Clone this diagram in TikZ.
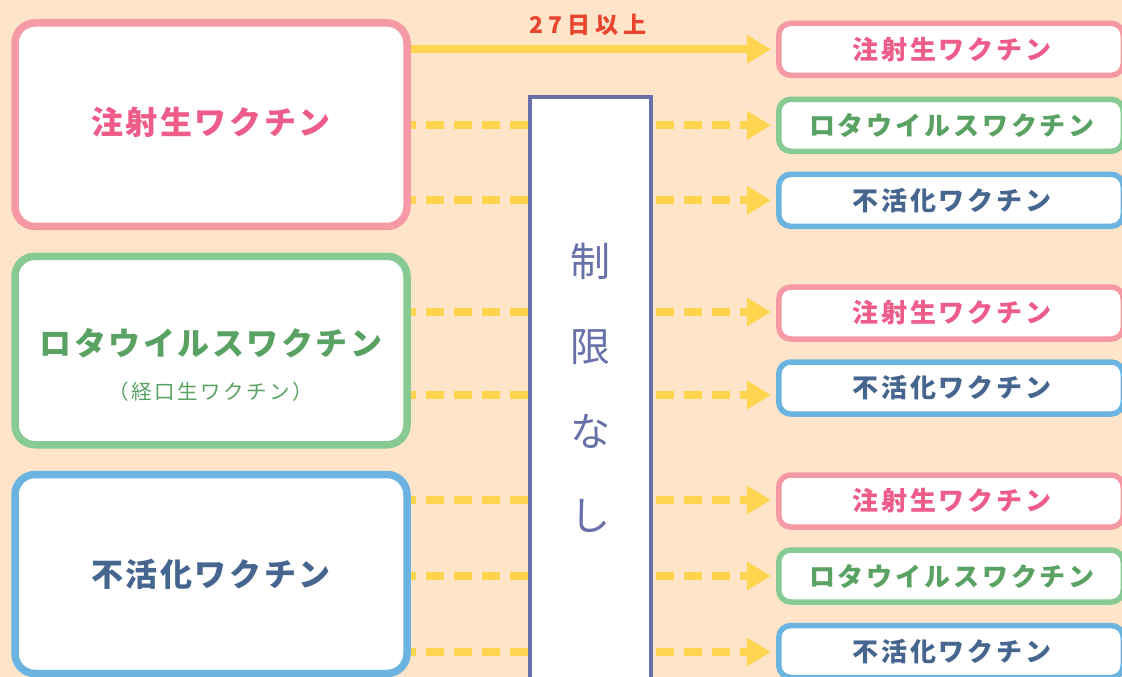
\documentclass[tikz,border=0pt]{standalone}
\usepackage{fontspec}
\setmainfont{Noto Sans CJK JP}
\usetikzlibrary{arrows.meta}
\definecolor{bg}{HTML}{FEE4C8}
\definecolor{pinkB}{HTML}{F59AA4}
\definecolor{pinkT}{HTML}{EE5C8A}
\definecolor{greenB}{HTML}{87CA94}
\definecolor{greenT}{HTML}{5AA263}
\definecolor{blueB}{HTML}{6BB3E0}
\definecolor{blueT}{HTML}{46668F}
\definecolor{barC}{HTML}{6770A8}
\definecolor{yel}{HTML}{FFD54F}
\definecolor{redT}{HTML}{E8442E}
\tikzset{
  bigbox/.style={draw, line width=7.5pt, rounded corners=20pt, fill=white,
    minimum width=392pt, inner sep=0pt},
  smallbox/.style={draw, line width=5.5pt, rounded corners=12pt, fill=white,
    minimum width=344.5pt, minimum height=52pt, inner sep=0pt},
  titletext/.style={inner sep=0pt, font=\bfseries\fontsize{32}{36}\selectfont\addfontfeature{LetterSpace=8}},
  subtext/.style={inner sep=0pt, font=\fontsize{20.5}{23}\selectfont\addfontfeature{LetterSpace=12}},
  smalltext/.style={inner sep=0pt, font=\bfseries\fontsize{26}{30}\selectfont\addfontfeature{LetterSpace=11}},
  bartext/.style={inner sep=0pt, text=barC, font=\fontsize{40}{44}\selectfont},
  conn/.style={draw=yel, line width=8pt},
  dashconn/.style={conn, dash pattern=on 18pt off 10pt},
  tip/.style={-{Triangle[length=24pt,width=27pt]}, shorten >=5pt},
}
\begin{document}
\begin{tikzpicture}[x=1pt,y=-1pt]
\clip (0,0) rectangle (1122,677);
\fill[bg] (0,0) rectangle (1122,677);

% left boxes
\node[bigbox, draw=pinkB, minimum height=203.5pt] (b1) at (211,124.7) {};
\node[bigbox, draw=greenB, minimum height=188.5pt] (b2) at (211,350.5) {};
\node[bigbox, draw=blueB, minimum height=199pt] (b3) at (211,574) {};
\node[titletext, text=pinkT] (t1) at (211,122) {注射生ワクチン};
\node[titletext, text=greenT] (t2) at (211,343) {ロタウイルスワクチン};
\node[subtext, text=greenT] (t2s) at (211,392) {（経口生ワクチン）};
\node[titletext, text=blueT] (t3) at (211,574) {不活化ワクチン};

% right boxes
\node[smallbox, draw=pinkB] (r1) at (951,49.3) {};
\node[smallbox, draw=greenB] (r2) at (951,125.3) {};
\node[smallbox, draw=blueB] (r3) at (951,200.3) {};
\node[smallbox, draw=pinkB] (r4) at (951,313) {};
\node[smallbox, draw=blueB] (r5) at (951,388) {};
\node[smallbox, draw=pinkB] (r6) at (951,501) {};
\node[smallbox, draw=greenB] (r7) at (951,576) {};
\node[smallbox, draw=blueB] (r8) at (951,651.5) {};
\node[smalltext, text=pinkT] (s1) at (952,49.3) {注射生ワクチン};
\node[smalltext, text=greenT] (s2) at (952,125.3) {ロタウイルスワクチン};
\node[smalltext, text=blueT] (s3) at (952,200.3) {不活化ワクチン};
\node[smalltext, text=pinkT] (s4) at (952,313) {注射生ワクチン};
\node[smalltext, text=blueT] (s5) at (952,388) {不活化ワクチン};
\node[smalltext, text=pinkT] (s6) at (952,501) {注射生ワクチン};
\node[smalltext, text=greenT] (s7) at (952,576) {ロタウイルスワクチン};
\node[smalltext, text=blueT] (s8) at (952,651.5) {不活化ワクチン};

% central bar
\node[draw=barC, line width=4pt, fill=white, minimum width=121pt, minimum height=620pt,
      inner sep=0pt, anchor=north] (bar) at (590.5,95) {};
\node[bartext] (c1) at (590,261.7) {制};
\node[bartext] (c2) at (590,347.5) {限};
\node[bartext] (c3) at (590,431.5) {な};
\node[bartext] (c4) at (590,516) {し};

% solid arrow with label
\draw[conn, tip] (b1.east |- r1.west) -- (r1.west);
\node[inner sep=0pt, text=redT, font=\bfseries\fontsize{23}{26}\selectfont\addfontfeature{LetterSpace=22}] (lbl) at (588,24.5) {27日以上};

% row levels
\coordinate (y2) at (0,125.3);
\coordinate (y3) at (0,200.3);
\coordinate (y4) at (0,312);
\coordinate (y5) at (0,395);
\coordinate (y6) at (0,500);
\coordinate (y7) at (0,576);
\coordinate (y8) at (0,652);

% dashed connectors: left box -> bar, bar -> right box
\foreach \b/\y/\r in {b1/y2/r2, b1/y3/r3, b2/y4/r4, b2/y5/r5, b3/y6/r6, b3/y7/r7, b3/y8/r8}{
  \draw[dashconn, dash phase=13pt] (\b.east |- \y) -- (bar.west |- \y);
  \draw[dashconn, dash phase=25pt, tip] (bar.east |- \y) -- (\r.west |- \y);
}
\end{tikzpicture}
\end{document}
